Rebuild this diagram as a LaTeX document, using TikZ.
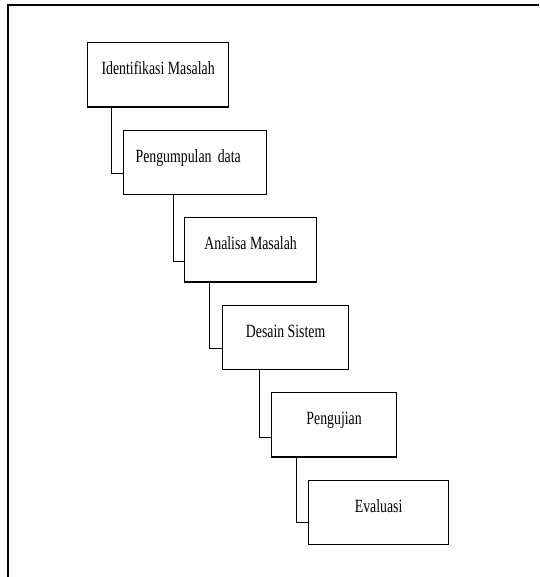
\documentclass[tikz,border=0pt]{standalone}
\usepackage{fontspec}
\newfontfamily\stepfont[FakeStretch=0.74]{Liberation Serif}
\usetikzlibrary{positioning}

\begin{document}
\begin{tikzpicture}
	[stepbox/.style={rectangle,draw=black,fill=white,line width=0.9pt,inner xsep=0pt,inner ysep=0pt,
		text height=24pt,text depth=24.25pt,align=center,font=\stepfont\fontsize{14pt}{16pt}\selectfont},
	linkline/.style={draw=black,line width=0.6pt},
	frameline/.style={draw=black,line width=1.2pt}
	]
	
	%Set params
	\def\verdist{16.5pt}
	
	\useasboundingbox (0,0) rectangle (404.25pt,-432.75pt);
	
	%Frame
	\draw[frameline] (6pt,-432.75pt) -- (6pt,-3.75pt) -- (404.25pt,-3.75pt);
	
	\node(Identifikasi)[stepbox, minimum width=105.75pt, anchor=north west] at (65.25pt,-31.5pt) {Identifikasi Masalah};
	\node(Pengumpulan)[stepbox, below = \verdist of Identifikasi.south west, anchor=north west, xshift=27pt,
		text width=89.25pt, inner xsep=9pt, align=left] {Pengumpulan data};
	\node(Analisa)[stepbox, minimum width=99pt, below = \verdist of Pengumpulan.south west, anchor=north west, xshift=45.75pt] {Analisa Masalah};
	\node(Desain)[stepbox, minimum width=94.5pt, below = \verdist of Analisa.south west, anchor=north west, xshift=28.5pt] {Desain Sistem};
	\node(Pengujian)[stepbox, minimum width=93.75pt, below = \verdist of Desain.south west, anchor=north west, xshift=36.75pt] {Pengujian};
	\node(Evaluasi)[stepbox, minimum width=105pt, below = \verdist of Pengujian.south west, anchor=north west, xshift=27.75pt] {Evaluasi};
	
	%Links
	\draw[linkline] ([xshift=18pt]Identifikasi.south west) |- ([yshift=16pt]Pengumpulan.south west);
	\draw[linkline] ([xshift=37.5pt]Pengumpulan.south west) |- ([yshift=16pt]Analisa.south west);
	\draw[linkline] ([xshift=18.75pt]Analisa.south west) |- ([yshift=16.5pt]Desain.south west);
	\draw[linkline] ([xshift=27.75pt]Desain.south west) |- ([yshift=15.5pt]Pengujian.south west);
	\draw[linkline] ([xshift=18.75pt]Pengujian.south west) |- ([yshift=17pt]Evaluasi.south west);
	
\end{tikzpicture}
\end{document}
